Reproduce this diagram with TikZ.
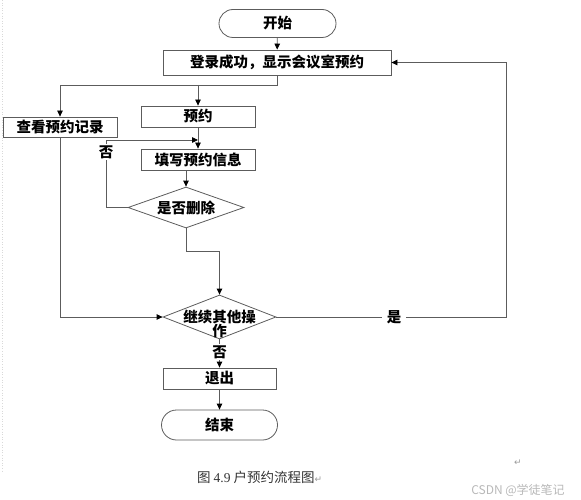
\documentclass[tikz,border=0pt]{standalone}
\usepackage{fontspec}
\setmainfont{Noto Sans CJK SC}
\newfontfamily\capfont{Liberation Serif}
\newfontfamily\symfont{DejaVu Sans}
\usetikzlibrary{positioning,calc,shapes.geometric,arrows.meta}
\definecolor{linegray}{HTML}{5C5C5C}
\definecolor{markgray}{HTML}{9A9A9A}
\definecolor{wmgray}{HTML}{B8B8B8}
\newcommand{\boxfont}{\fontsize{14.5}{14}\selectfont\bfseries}

\begin{document}
\begin{tikzpicture}[x=1pt,y=-1pt,
    box/.style={draw=linegray,line width=0.8pt,rectangle,minimum width=114pt,minimum height=21pt,inner sep=0pt,font=\boxfont},
    terminal/.style={draw=linegray,line width=0.8pt,rectangle,rounded corners=14pt,minimum width=116pt,minimum height=28pt,inner sep=0pt,font=\boxfont},
    decision/.style={draw=linegray,line width=0.8pt,diamond,aspect=2.7,inner sep=0pt,font=\boxfont},
    flow/.style={draw=linegray,line width=0.8pt,-{Triangle[length=6pt,width=5.5pt,color=black]}},
    yesno/.style={fill=white,inner sep=1.5pt,font=\boxfont}]
    \useasboundingbox (0,0) rectangle (581,500);
    \draw[gray!30,line width=0.6pt,dotted] (2,0) -- (2,472);
    % boxes
    \node[terminal,minimum width=117pt] (start) at (277.5,23.5) {开始};
    \node[box,minimum width=228pt,minimum height=25pt] (login) at (277,62.5) {登录成功，显示会议室预约};
    \node[box] (book) at (198,116.5) {预约};
    \node[box,minimum height=20pt] (view) at (60,127) {查看预约记录};
    \node[box] (fill) at (198,159.5) {填写预约信息};
    \node[decision,minimum width=116pt,minimum height=41pt] (del) at (186,207.5) {是否删除};
    \node[decision,minimum width=113pt,minimum height=44pt] (cont) at (219.5,317) {};
    \node[align=center,font=\boxfont,inner sep=0pt] (contText) at (219.5,323.5) {继续其他操\\作};
    \node[box,minimum width=113pt] (exit) at (219.5,378.5) {退出};
    \node[terminal,minimum height=30pt,rounded corners=15pt] (stop) at (219.5,425) {结束};
    % connectors
    \coordinate (fork) at (277,85);
    \coordinate (noturn) at (106,140);
    \coordinate (bend) at (186,251);
    \coordinate (back) at (506,62.5);
    \draw[flow] (start) -- (login);
    \draw[flow] (login.south) -- (fork) -| (view.north);
    \draw[flow] (fork -| book.north) -- (book.north);
    \draw[flow] (book) -- (fill);
    \draw[flow] (fill.south -| del.north) -- (del.north);
    \draw[flow] (del.west) -| (noturn) -- (noturn -| book.south);
    \draw[flow] (del.south) -- (bend) -| (cont.north);
    \draw[flow] (view.south) |- (cont.west);
    \draw[flow] (cont.east) -| (back) -- (login.east);
    \draw[flow] (cont.south) -- (exit.north);
    \draw[flow] (exit) -- (stop);
    % labels
    \node[yesno] (no1) at (106,152) {否};
    \node[yesno,inner xsep=5pt] (yes) at (394,317.5) {是};
    \node[yesno] (no2) at (219.5,352) {否};
    % caption
    \node[anchor=west,inner sep=0pt,font=\fontsize{13.5}{13.5}\selectfont,text=black!80] (caption) at (197,477)
        {图 {\capfont 4.9} 户预约流程图{\color{markgray}\symfont\fontsize{9}{9}\selectfont ↵}};
    \node[text=markgray,font=\symfont\fontsize{9}{9}\selectfont] (retmark) at (518,463) {↵};
    \node[text=wmgray,font=\fontsize{12}{12}\selectfont,inner sep=0pt] (csdn) at (518,490) {CSDN @学徒笔记};
\end{tikzpicture}
\end{document}
